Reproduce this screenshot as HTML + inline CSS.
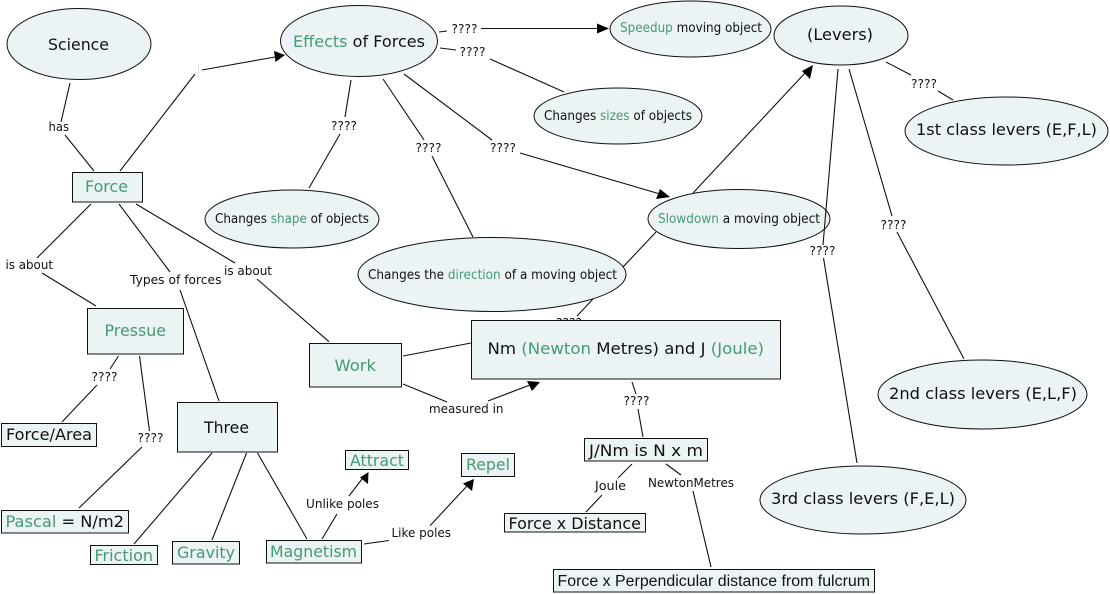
<!DOCTYPE html>
<html><head><meta charset="utf-8"><style>
html,body{margin:0;padding:0;background:#fff}
svg{display:block}
text{font-family:"DejaVu Sans","Liberation Sans",sans-serif;fill:#111}
.g{fill:#459b72}
.l{font-size:12px}
.s{font-size:13px}
.b{font-size:16px}
ellipse,rect.n{fill:#ebf3f5;stroke:#111;stroke-width:1}
line{stroke:#111;stroke-width:1.1}
polygon{fill:#000}
</style></head><body>
<svg width="1110" height="594" viewBox="0 0 1110 594" xmlns="http://www.w3.org/2000/svg">
<!-- hidden label behind Nm -->
<text class="l" x="556" y="327" textLength="26" lengthAdjust="spacingAndGlyphs">????</text>
<line x1="198.500" y1="64" x2="198.500" y2="78" style="stroke:#e4e4e4"/>

<!-- ellipses -->
<ellipse cx="79" cy="44" rx="72" ry="35.500"/>
<ellipse cx="359" cy="41" rx="78.500" ry="35.500"/>
<ellipse cx="690.500" cy="29" rx="80.500" ry="28"/>
<ellipse cx="841" cy="35.500" rx="67" ry="29.500"/>
<ellipse cx="618" cy="116" rx="84" ry="28"/>
<ellipse cx="292" cy="219" rx="87" ry="29"/>
<ellipse cx="492" cy="274.500" rx="134" ry="37"/>
<ellipse cx="739" cy="219" rx="91" ry="29.500"/>
<ellipse cx="1006.500" cy="131" rx="101.500" ry="34"/>
<ellipse cx="982.500" cy="394.500" rx="104.500" ry="34.500"/>
<ellipse cx="863" cy="500" rx="103" ry="34"/>

<!-- rects -->
<rect class="n" x="72.500" y="172.500" width="70" height="29.500"/>
<rect class="n" x="87.500" y="308.500" width="96" height="45.500"/>
<rect class="n" x="309.500" y="343.500" width="92" height="43.500"/>
<rect class="n" x="177.500" y="402.500" width="100" height="49.500"/>
<rect class="n" x="1.500" y="423.500" width="95" height="23"/>
<rect class="n" x="1.500" y="510.500" width="127" height="22.500"/>
<rect class="n" x="90.500" y="545.500" width="67" height="19"/>
<rect class="n" x="172.500" y="541.500" width="67" height="22.500"/>
<rect class="n" x="266.500" y="540.500" width="95" height="22.500"/>
<rect class="n" x="345.500" y="450.500" width="63" height="19"/>
<rect class="n" x="461.500" y="453.500" width="53" height="23"/>
<rect class="n" x="471.500" y="320.500" width="309" height="58.500"/>
<rect class="n" x="584.500" y="438.500" width="123" height="22.500"/>
<rect class="n" x="504.500" y="513.500" width="141" height="18.500"/>
<rect class="n" x="553.500" y="569.500" width="321" height="22.500"/>

<!-- connectors -->
<line x1="70" y1="83" x2="61" y2="122"/><line x1="65" y1="135" x2="94" y2="171"/>
<line x1="120" y1="171" x2="195" y2="74"/><line x1="202" y1="70" x2="275" y2="57"/>
<line x1="91" y1="204" x2="37" y2="258"/><line x1="42" y1="273" x2="96" y2="306"/>
<line x1="119" y1="204" x2="170" y2="272"/><line x1="180" y1="290" x2="219" y2="401"/>
<line x1="136" y1="204" x2="235" y2="263"/><line x1="257" y1="279" x2="329" y2="341.700"/>
<line x1="351" y1="80" x2="345" y2="117"/><line x1="340" y1="134" x2="309" y2="188"/>
<line x1="383" y1="79" x2="424" y2="140"/><line x1="432" y1="156" x2="473" y2="237"/>
<line x1="404" y1="74" x2="492" y2="140"/><line x1="520" y1="153" x2="660" y2="194"/>
<line x1="439" y1="32" x2="447" y2="31"/><line x1="481" y1="28.500" x2="600" y2="28.500"/>
<line x1="440" y1="48" x2="456" y2="50"/><line x1="490" y1="59" x2="564" y2="92"/>
<line x1="693" y1="193" x2="806" y2="72"/>
<line x1="623" y1="267" x2="656" y2="232"/>
<line x1="577" y1="316" x2="593" y2="299"/>
<line x1="838" y1="69" x2="823" y2="245"/><line x1="823.500" y1="258" x2="857" y2="463"/>
<line x1="849" y1="69" x2="892" y2="216"/><line x1="897" y1="232" x2="964" y2="359"/>
<line x1="886" y1="62" x2="911" y2="75"/><line x1="938" y1="91" x2="953" y2="100"/>
<line x1="118.500" y1="356" x2="110" y2="369"/><line x1="97" y1="385" x2="62" y2="422"/>
<line x1="139.500" y1="356" x2="149.500" y2="431"/><line x1="142" y1="447" x2="79" y2="508"/>
<line x1="212" y1="453" x2="134" y2="544"/>
<line x1="246.500" y1="453" x2="212" y2="540"/>
<line x1="257.500" y1="453" x2="307" y2="539"/>
<line x1="322" y1="539" x2="337" y2="514"/><line x1="349" y1="496" x2="362" y2="479"/>
<line x1="364" y1="544" x2="389" y2="540.500"/><line x1="430" y1="525.700" x2="467" y2="486"/>
<line x1="403" y1="356" x2="471" y2="343"/>
<line x1="403" y1="384" x2="447" y2="402"/><line x1="488" y1="401" x2="530" y2="385"/>
<line x1="632" y1="382" x2="636" y2="394"/><line x1="638" y1="409" x2="643" y2="437"/>
<line x1="632" y1="464" x2="618" y2="478"/><line x1="602" y1="495" x2="586" y2="512"/>
<line x1="666" y1="464" x2="681" y2="475"/><line x1="693" y1="491" x2="711" y2="567"/>

<!-- arrowheads -->
<polygon points="285,55 274,51 275.500,62"/>
<polygon points="609,28.500 597,23.500 597,33.500"/>
<polygon points="670,197 660,189 656,199"/>
<polygon points="813,65 802,71 810,79"/>
<polygon points="368.500,472 360,477.500 368,484"/>
<polygon points="474,479 463,483.500 472,491"/>
<polygon points="540,382 527,381 532,391"/>

<!-- node text -->
<text class="b" x="48" y="50" textLength="61" lengthAdjust="spacingAndGlyphs">Science</text>
<text class="b" x="293" y="47" textLength="132" lengthAdjust="spacingAndGlyphs"><tspan class="g">Effects</tspan> of Forces</text>
<text class="s" x="620" y="32" textLength="142" lengthAdjust="spacingAndGlyphs"><tspan class="g">Speedup</tspan> moving object</text>
<text class="b" x="807" y="40" textLength="66" lengthAdjust="spacingAndGlyphs">(Levers)</text>
<text class="s" x="544" y="120" textLength="148" lengthAdjust="spacingAndGlyphs">Changes <tspan class="g">sizes</tspan> of objects</text>
<text class="s" x="215" y="223" textLength="154" lengthAdjust="spacingAndGlyphs">Changes <tspan class="g">shape</tspan> of objects</text>
<text class="s" x="368" y="279" textLength="249" lengthAdjust="spacingAndGlyphs">Changes the <tspan class="g">direction</tspan> of a moving object</text>
<text class="s" x="658" y="223" textLength="162" lengthAdjust="spacingAndGlyphs"><tspan class="g">Slowdown</tspan> a moving object</text>
<text class="b" x="916" y="135" textLength="181" lengthAdjust="spacingAndGlyphs">1st class levers (E,F,L)</text>
<text class="b" x="889" y="399" textLength="188" lengthAdjust="spacingAndGlyphs">2nd class levers (E,L,F)</text>
<text class="b" x="771" y="504" textLength="184" lengthAdjust="spacingAndGlyphs">3rd class levers (F,E,L)</text>
<text class="b g" x="85" y="192" textLength="43" lengthAdjust="spacingAndGlyphs">Force</text>
<text class="b g" x="104.500" y="336" textLength="61.500" lengthAdjust="spacingAndGlyphs">Pressue</text>
<text class="b g" x="334.500" y="371" textLength="41.500" lengthAdjust="spacingAndGlyphs">Work</text>
<text class="b" x="204" y="433" textLength="45" lengthAdjust="spacingAndGlyphs">Three</text>
<text class="b" x="6" y="440" textLength="86" lengthAdjust="spacingAndGlyphs">Force/Area</text>
<text class="b" x="5.500" y="527" textLength="118.500" lengthAdjust="spacingAndGlyphs"><tspan class="g">Pascal</tspan> = N/m2</text>
<text class="b g" x="94.500" y="561" textLength="58.500" lengthAdjust="spacingAndGlyphs">Friction</text>
<text class="b g" x="177" y="558" textLength="58" lengthAdjust="spacingAndGlyphs">Gravity</text>
<text class="b g" x="270" y="557" textLength="87" lengthAdjust="spacingAndGlyphs">Magnetism</text>
<text class="b g" x="350" y="466" textLength="54" lengthAdjust="spacingAndGlyphs">Attract</text>
<text class="b g" x="466" y="470" textLength="44" lengthAdjust="spacingAndGlyphs">Repel</text>
<text class="b" x="487.500" y="354" textLength="276.500" lengthAdjust="spacingAndGlyphs">Nm <tspan class="g">(Newton</tspan> Metres) and J <tspan class="g">(Joule)</tspan></text>
<text class="b" x="589" y="456" textLength="114" lengthAdjust="spacingAndGlyphs">J/Nm is N x m</text>
<text class="b" x="508.500" y="529" textLength="132.500" lengthAdjust="spacingAndGlyphs">Force x Distance</text>
<text x="557.500" y="586" font-size="15.500" textLength="312.500" lengthAdjust="spacingAndGlyphs" style="font-family:'Liberation Sans',sans-serif">Force x Perpendicular distance from fulcrum</text>

<!-- connector labels -->
<text class="l" x="48.500" y="131" textLength="20.500" lengthAdjust="spacingAndGlyphs">has</text>
<text class="l" x="5.500" y="269" textLength="47.500" lengthAdjust="spacingAndGlyphs">is about</text>
<text class="l" x="130" y="284" textLength="91.500" lengthAdjust="spacingAndGlyphs">Types of forces</text>
<text class="l" x="224" y="275" textLength="48" lengthAdjust="spacingAndGlyphs">is about</text>
<text class="l" x="331" y="130" textLength="26" lengthAdjust="spacingAndGlyphs">????</text>
<text class="l" x="451.500" y="33" textLength="26" lengthAdjust="spacingAndGlyphs">????</text>
<text class="l" x="459.500" y="56" textLength="26" lengthAdjust="spacingAndGlyphs">????</text>
<text class="l" x="415.500" y="152" textLength="26" lengthAdjust="spacingAndGlyphs">????</text>
<text class="l" x="490" y="152" textLength="26" lengthAdjust="spacingAndGlyphs">????</text>
<text class="l" x="911" y="88" textLength="26" lengthAdjust="spacingAndGlyphs">????</text>
<text class="l" x="880.500" y="229" textLength="26" lengthAdjust="spacingAndGlyphs">????</text>
<text class="l" x="809.500" y="255" textLength="26" lengthAdjust="spacingAndGlyphs">????</text>
<text class="l" x="91.500" y="381" textLength="26" lengthAdjust="spacingAndGlyphs">????</text>
<text class="l" x="137.500" y="442" textLength="26" lengthAdjust="spacingAndGlyphs">????</text>
<text class="l" x="623.500" y="405" textLength="26" lengthAdjust="spacingAndGlyphs">????</text>
<text class="l" x="306" y="508" textLength="73" lengthAdjust="spacingAndGlyphs">Unlike poles</text>
<text class="l" x="391.500" y="537" textLength="59.500" lengthAdjust="spacingAndGlyphs">Like poles</text>
<text class="l" x="429" y="413" textLength="74.500" lengthAdjust="spacingAndGlyphs">measured in</text>
<text class="l" x="595" y="490" textLength="31" lengthAdjust="spacingAndGlyphs">Joule</text>
<text class="l" x="648" y="487" textLength="86" lengthAdjust="spacingAndGlyphs">NewtonMetres</text>
</svg>
</body></html>
